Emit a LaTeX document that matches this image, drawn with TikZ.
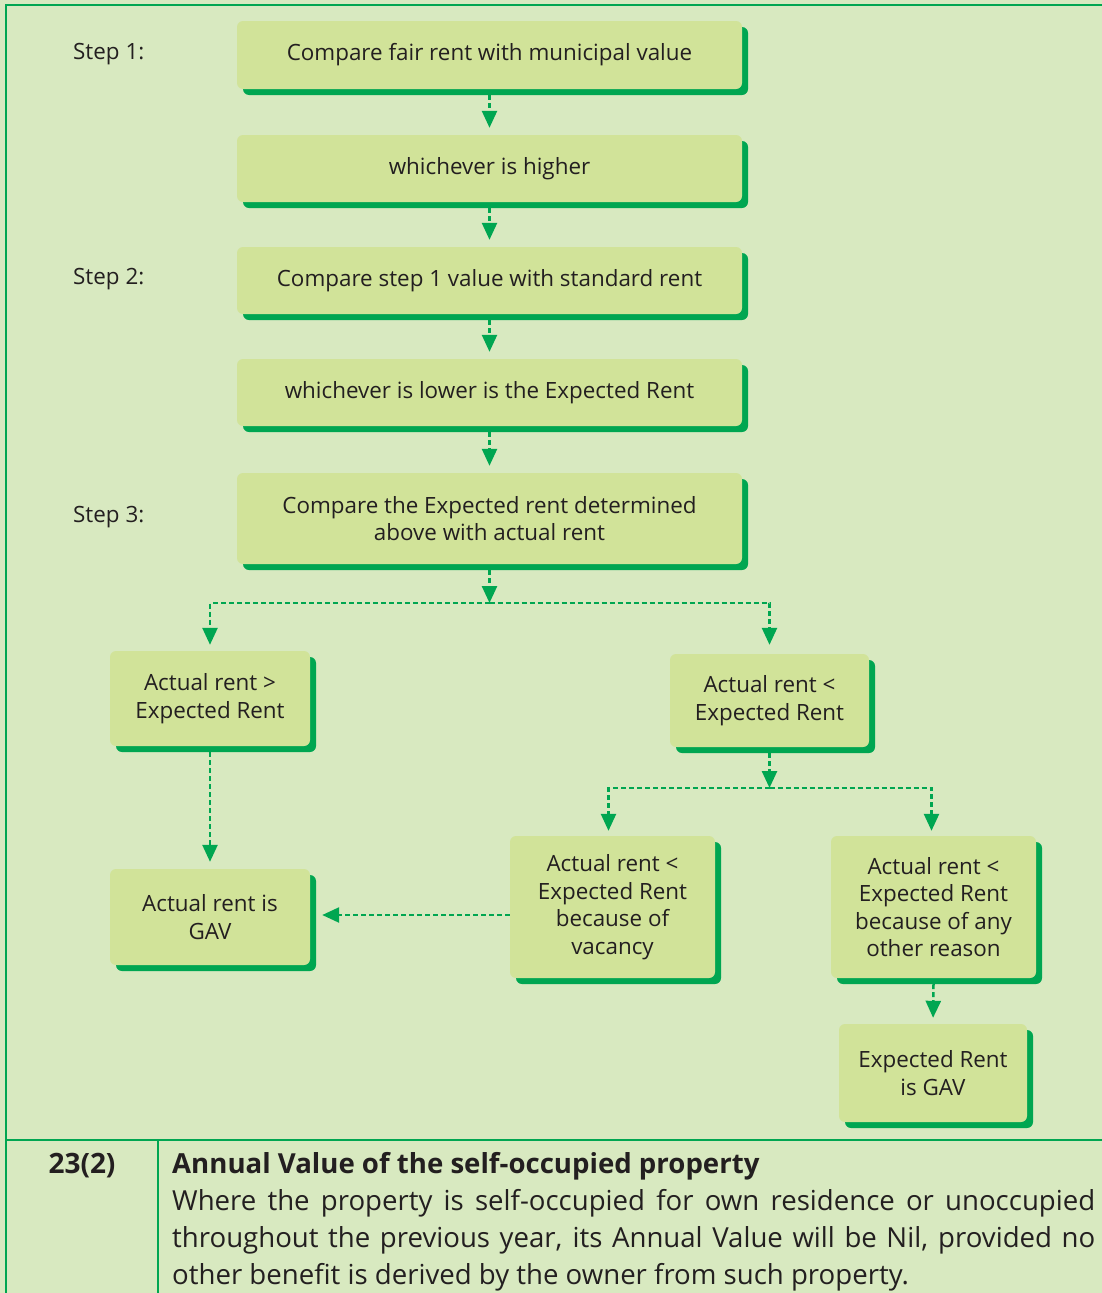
\documentclass[tikz,border=0pt]{standalone}
\usepackage{fontspec}
\setmainfont{Open Sans}
\usetikzlibrary{shadows,arrows.meta,calc}
\definecolor{bgc}{HTML}{D8E9C0}
\definecolor{boxc}{HTML}{D1E399}
\definecolor{grn}{HTML}{00A651}
\definecolor{txt}{HTML}{231F20}
\tikzset{
  stepbox/.style={draw=none, fill=boxc, rounded corners=6pt, inner sep=0pt,
    align=center, text=txt, font=\fontsize{22.4}{27.5}\selectfont,
    general shadow={shadow xshift=6pt, shadow yshift=-6pt, fill=grn}},
  steplabel/.style={anchor=west, text=txt, font=\fontsize{22.4}{27}\selectfont, inner sep=0pt},
  flow/.style={draw=grn, line width=2.5pt, dash pattern=on 5pt off 3pt,
    -{Triangle[length=17pt,width=15pt]}},
  tabtext/.style={text=txt, font=\fontsize{27.6}{37}\selectfont, inner sep=0pt}
}
\begin{document}
\begin{tikzpicture}[x=1pt,y=-1pt]
\fill[bgc] (0,0) rectangle (1102,1293);
\useasboundingbox (0,0) rectangle (1102,1293);
% frame
\draw[grn, line width=2.5pt] (1102,5) -- (6,5) -- (6,1293);
\draw[grn, line width=2.2pt] (6,1140) -- (1102,1140);
\draw[grn, line width=2.2pt] (158,1140) -- (158,1293);

% boxes
\node[stepbox, minimum width=505pt, minimum height=68pt] (b1) at (489.5,55) {Compare fair rent with municipal value};
\node[stepbox, minimum width=505pt, minimum height=67pt] (b2) at (489.5,168.5) {whichever is higher};
\node[stepbox, minimum width=505pt, minimum height=67pt] (b3) at (489.5,280.5) {Compare step 1 value with standard rent};
\node[stepbox, minimum width=505pt, minimum height=67pt] (b4) at (489.5,392.5) {whichever is lower is the Expected Rent};
\node[stepbox, minimum width=505pt, minimum height=91pt] (b5) at (489.5,518.5) {Compare the Expected rent determined\\above with actual rent};
\node[stepbox, minimum width=200pt, minimum height=95pt] (l1) at (210,698.5) {Actual rent >\\Expected Rent};
\node[stepbox, minimum width=199pt, minimum height=93pt] (r1) at (769.5,700.5) {Actual rent <\\Expected Rent};
\node[stepbox, minimum width=205pt, minimum height=142pt] (vac) at (612.5,907) {Actual rent <\\Expected Rent\\because of\\vacancy};
\node[stepbox, minimum width=205pt, minimum height=142pt] (oth) at (933.5,907) {Actual rent <\\Expected Rent\\because of any\\other reason};
\node[stepbox, minimum width=200pt, minimum height=96pt] (gav) at (210,917) {Actual rent is\\GAV};
\node[stepbox, minimum width=188pt, minimum height=98pt] (egav) at (933,1073) {Expected Rent\\is GAV};

% step labels
\node[steplabel] (s1) at (73,54) {Step 1:};
\node[steplabel] (s2) at (73,279) {Step 2:};
\node[steplabel] (s3) at (73,517) {Step 3:};

% connectors
\draw[flow, shorten >=7pt] ($(b1.south)+(0,6)$) -- (b2.north);
\draw[flow, shorten >=7pt] ($(b2.south)+(0,6)$) -- (b3.north);
\draw[flow, shorten >=7pt] ($(b3.south)+(0,6)$) -- (b4.north);
\draw[flow, shorten >=7pt] ($(b4.south)+(0,6)$) -- (b5.north);
\coordinate (j1) at (489.5,603);
\draw[flow] ($(b5.south)+(0,6)$) -- (j1);
\draw[flow, shorten >=6pt] (j1) -| (l1.north);
\draw[flow, shorten >=9pt] (j1) -| (r1.north);
\coordinate (j2) at (769.5,788);
\draw[flow] ($(r1.south)+(0,6)$) -- (j2);
\draw[flow, shorten >=5pt] (j2) -| ($(vac.north)+(-4,0)$);
\draw[flow, shorten >=5pt] (j2) -| ($(oth.north)+(-2,0)$);
\draw[flow, shorten >=7pt] ($(l1.south)+(0,6)$) -- (gav.north);
\draw[flow] ($(vac.west)+(0,8)$) -- ($(gav.east)+(12,-2)$);
\draw[flow, shorten >=6pt] ($(oth.south)+(0,6)$) -- (egav.north);

% bottom table
\node[tabtext, anchor=center, font=\fontsize{28}{37}\selectfont\bfseries] (num) at (82,1166) {23(2)};
\node[tabtext, anchor=west, font=\fontsize{27.6}{37}\selectfont\bfseries] (head) at (172,1166) {Annual Value of the self-occupied property};
\node[tabtext, anchor=west] (p1) at (172,1203) {\makebox[923pt][s]{Where the property is self-occupied for own residence or unoccupied}};
\node[tabtext, anchor=west] (p2) at (172,1240) {\makebox[923pt][s]{throughout the previous year, its Annual Value will be Nil, provided no}};
\node[tabtext, anchor=west] (p3) at (172,1277) {other benefit is derived by the owner from such property.};
\end{tikzpicture}
\end{document}
